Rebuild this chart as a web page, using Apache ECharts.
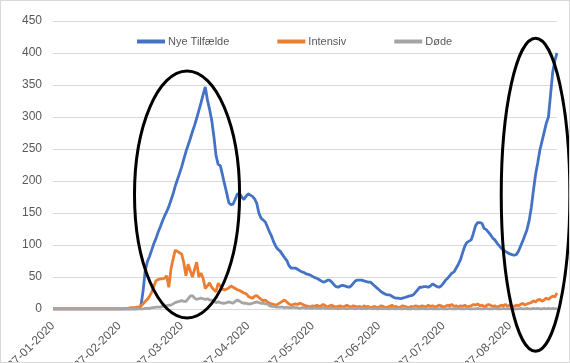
<!DOCTYPE html>
<html><head><meta charset="utf-8">
<script src="https://cdn.jsdelivr.net/npm/echarts@6/dist/echarts.min.js"></script>
<style>
html,body{margin:0;padding:0;background:#fff}
#wrap{position:relative;width:570px;height:363px}
#c{width:570px;height:363px}
#b{position:absolute;left:0;top:0;width:570px;height:363px;box-sizing:border-box;border:1px solid #d9d9d9;pointer-events:none}
</style>
</head><body><div id="wrap"><div id="c"></div><div id="b"></div></div>
<script>
// Daily series from 27-01-2020
const startYear = 2020, startMonth = 1, startDay = 27;
const dayCount = 236;
const seriesNames = ['Nye Tilfælde', 'Intensiv', 'Døde'];
const yTicks = [0, 50, 100, 150, 200, 250, 300, 350, 400, 450];

const nyeTilfaelde = [
  0,0,0,0,0,0,0,0,0,0,
  0,0,0,0,0,0,0,0,0,0,
  0,0,0,0,0,0,0,0,0,0,
  0,0,0,0,0,0,0,0,0,0,
  1,5,28,60,74,82,92,102,110,120,
  128,137,145,152,160,170,180,192,202,212,
  222,234,246,256,266,277,287,298,310,322,
  335,347,327,312,295,270,240,226,224,210,
  195,181,166,163,164,172,180,180,175,171,
  176,180,178,176,172,165,150,142,139,136,
  128,120,113,104,97,93,90,85,80,76,
  68,64,64,64,62,60,58,57,55,54,
  53,51,49,48,46,44,42,43,45,45,
  42,38,35,34,36,37,36,35,34,36,
  40,44,45,45,45,44,43,42,42,39,
  36,33,30,27,25,23,22,22,20,18,
  17,17,16,17,18,19,20,21,22,26,
  30,34,34,35,35,34,36,39,37,35,
  34,36,40,45,48,52,56,58,64,70,
  77,88,98,104,106,108,118,130,135,135,
  134,126,124,120,116,111,108,103,99,95,
  92,90,88,86,85,84,85,90,98,106,
  115,124,138,158,185,210,228,248,262,276,
  290,300,335,370,388,400
];
const intensiv = [
  0,0,0,0,0,0,0,0,0,0,
  0,0,0,0,0,0,0,0,0,0,
  0,0,0,0,0,0,0,0,0,0,
  0,0,0,0,1,1,2,2,2,3,
  3,5,8,12,15,20,26,35,44,46,
  47,47,48,52,34,62,78,92,90,88,
  86,72,52,70,60,50,62,73,50,56,
  48,32,36,41,34,30,27,40,36,31,
  30,31,33,36,34,32,30,29,27,25,
  24,20,18,17,20,21,18,15,13,14,
  11,9,8,7,6,8,10,12,14,11,
  8,6,7,8,7,9,8,6,5,4,
  3,5,4,6,4,5,7,5,3,5,
  6,4,3,4,5,3,4,6,4,3,
  5,4,3,4,2,5,3,4,2,3,
  4,2,3,5,4,2,3,4,6,3,
  4,2,3,5,4,3,2,4,3,5,
  4,3,5,4,3,6,4,5,3,4,
  6,5,3,4,6,5,7,4,5,3,
  5,4,6,3,4,5,7,6,8,5,
  6,4,5,7,6,4,5,3,4,6,
  5,7,4,6,5,4,6,5,7,9,
  6,8,9,10,13,11,14,15,12,14,
  17,15,18,20,19,25
];
const doede = [
  0,0,0,0,0,0,0,0,0,0,
  0,0,0,0,0,0,0,0,0,0,
  0,0,0,0,0,0,0,0,0,0,
  0,0,0,0,0,0,0,0,0,0,
  0,0,0,1,1,1,2,2,3,3,
  3,4,4,5,6,6,8,10,11,12,
  13,12,12,16,20,21,17,15,16,17,
  16,15,16,14,14,12,10,11,10,9,
  9,10,11,10,9,12,14,12,10,9,
  9,8,8,9,10,11,10,9,9,8,
  8,5,4,4,3,3,3,3,2,3,
  2,2,3,2,2,1,2,2,1,2,
  1,1,2,1,1,1,2,1,1,1,
  1,1,1,0,1,1,1,0,1,1,
  1,0,1,1,0,1,0,1,1,0,
  1,0,0,1,0,1,0,0,1,0,
  0,1,0,0,1,0,0,0,1,0,
  0,0,1,0,0,0,1,0,0,0,
  0,1,0,0,0,1,0,0,0,1,
  0,0,0,1,0,0,0,0,1,0,
  0,0,1,0,0,0,1,0,0,0,
  1,0,0,0,1,0,0,0,1,0,
  0,1,0,0,1,0,1,0,0,1,
  0,1,0,1,0,1
];
// Hand-drawn ellipses (annotation), given as data-space bounding boxes: [fromIdx, toIdx, topValue, bottomValue]
const ellipseBoxes = [
  [38, 87, 372, -14],
  [208.7, 240.7, 423, -66]
];

const categories = [];
const base = Date.UTC(startYear, startMonth - 1, startDay);
for (let i = 0; i < dayCount; i++) {
  const d = new Date(base + i * 86400000);
  const dd = String(d.getUTCDate()).padStart(2, '0');
  const mm = String(d.getUTCMonth() + 1).padStart(2, '0');
  categories.push(dd + '-' + mm + '-' + d.getUTCFullYear());
}

const chart = echarts.init(document.getElementById('c'));
const font = 'Liberation Sans, Arial, sans-serif';
chart.setOption({
  animation: false,
  backgroundColor: '#fff',
  color: ['#4472C4', '#ED7D31', '#A5A5A5'],
  textStyle: { fontFamily: font },
  grid: { left: 53, right: 13, top: 21, bottom: 54, containLabel: false, outerBoundsMode: 'none' },
  legend: {
    left: 132, top: 31, icon: 'rect', itemWidth: 28, itemHeight: 4, itemGap: 48,
    textStyle: { color: '#595959', fontSize: 11, fontFamily: font, padding: [0, 0, 0, -2] },
    data: seriesNames
  },
  xAxis: {
    type: 'category', boundaryGap: false, data: categories,
    axisTick: { show: false },
    axisLine: { lineStyle: { color: '#d9d9d9', width: 1 } },
    axisLabel: {
      rotate: 45, margin: 15, color: '#595959', fontSize: 12, fontFamily: font,
      interval: function (idx, val) { return val.slice(0, 2) === '27'; }
    },
    splitLine: { show: false }
  },
  yAxis: {
    type: 'value', min: yTicks[0], max: yTicks[yTicks.length - 1], interval: 50,
    axisLine: { show: false }, axisTick: { show: false },
    axisLabel: { color: '#595959', fontSize: 12, margin: 11, fontFamily: font },
    splitLine: { lineStyle: { color: '#d9d9d9', width: 1 } }
  },
  series: [
    { name: seriesNames[0], type: 'line', data: nyeTilfaelde, symbol: 'none', lineStyle: { width: 2.8, color: '#4472C4' }, itemStyle: { color: '#4472C4' } },
    { name: seriesNames[1], type: 'line', data: intensiv, symbol: 'none', lineStyle: { width: 2.8, color: '#ED7D31' }, itemStyle: { color: '#ED7D31' } },
    { name: seriesNames[2], type: 'line', data: doede, symbol: 'none', lineStyle: { width: 2.8, color: '#A5A5A5' }, itemStyle: { color: '#A5A5A5' } }
  ]
});

const graphics = ellipseBoxes.map(function (b) {
  const p1 = chart.convertToPixel({ gridIndex: 0 }, [b[0], b[2]]);
  const p2 = chart.convertToPixel({ gridIndex: 0 }, [b[1], b[3]]);
  return {
    type: 'ellipse', z: 100,
    shape: { cx: (p1[0] + p2[0]) / 2, cy: (p1[1] + p2[1]) / 2, rx: Math.abs(p2[0] - p1[0]) / 2, ry: Math.abs(p2[1] - p1[1]) / 2 },
    style: { fill: 'none', stroke: '#000', lineWidth: 3 }
  };
});
chart.setOption({ graphic: graphics });
</script>
</body></html>
